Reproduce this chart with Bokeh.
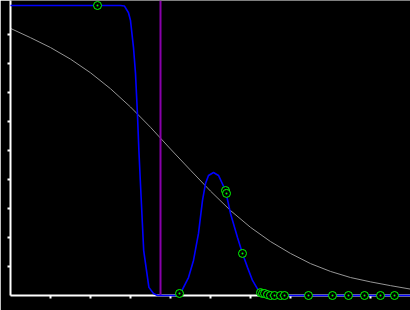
from bokeh.plotting import figure
from bokeh.models import Range1d, Span, FixedTicker
from bokeh.embed import file_html
from bokeh.resources import INLINE

# Blue curve
blue_x = [0.0, 2.75, 2.85, 2.95, 3.0, 3.075, 3.125, 3.175, 3.21, 3.25, 3.33, 3.46,
          3.575, 3.675, 4.125, 4.25, 4.325, 4.45, 4.575, 4.7, 4.8, 4.875, 4.95,
          5.075, 5.2, 5.375, 5.5, 5.675, 5.8, 5.925, 6.05, 6.2, 6.325, 6.5, 10.0]
blue_y = [1.0, 1.0, 0.998, 0.975, 0.948, 0.855, 0.766, 0.621, 0.5, 0.383, 0.155, 0.028,
          0.007, 0.0, 0.0, 0.007, 0.028, 0.062, 0.121, 0.214, 0.328, 0.386, 0.414,
          0.424, 0.414, 0.362, 0.283, 0.2, 0.145, 0.097, 0.052, 0.017, 0.003, 0.0, 0.0]

# Grey curve
grey_x = [0.0, 0.5, 1.0, 1.5, 2.0, 2.5, 3.0, 3.5, 4.0, 4.5, 5.0, 5.5, 6.0, 6.5,
          7.0, 7.5, 8.0, 8.5, 9.0, 9.5, 10.0]
grey_y = [0.921, 0.889, 0.855, 0.815, 0.768, 0.713, 0.650, 0.580, 0.505, 0.432, 0.360,
          0.293, 0.235, 0.186, 0.145, 0.110, 0.083, 0.062, 0.047, 0.034, 0.022]

# Green sample points
pts_x = [2.175, 4.225, 5.375, 5.4, 5.8, 6.25, 6.3, 6.35, 6.425, 6.5, 6.6, 6.75, 6.85,
         7.45, 8.05, 8.45, 8.85, 9.25, 9.6]
pts_y = [1.0, 0.007, 0.362, 0.352, 0.145, 0.01, 0.007, 0.007, 0.003, 0.0, 0.0, 0.0, 0.0,
         0.0, 0.0, 0.0, 0.0, 0.0, 0.0]

# Vertical marker line
vline_x = 3.75

x_ticks = [1, 2, 3, 4, 5, 6, 7, 8, 9]
y_ticks = [0.1, 0.2, 0.3, 0.4, 0.5, 0.6, 0.7, 0.8, 0.9]

p = figure(width=410, height=310, output_backend="svg", toolbar_location=None,
           x_range=Range1d(0, 10), y_range=Range1d(0, 1.0172),
           min_border_left=10, min_border_right=0, min_border_top=0, min_border_bottom=15)
p.background_fill_color = "black"
p.border_fill_color = "black"
p.outline_line_color = None
p.xgrid.visible = False
p.ygrid.visible = False

for ax, ticks in ((p.xaxis[0], x_ticks), (p.yaxis[0], y_ticks)):
    ax.ticker = FixedTicker(ticks=ticks)
    ax.major_label_overrides = {t: "" for t in ticks}
    ax.axis_line_color = "white"
    ax.axis_line_width = 2
    ax.major_tick_line_color = "white"
    ax.major_tick_line_width = 2
    ax.major_tick_out = 3
    ax.major_tick_in = 0
    ax.minor_tick_line_color = None
    ax.major_label_text_font_size = "1px"
    ax.major_label_standoff = 0
    ax.axis_label = None

p.line(grey_x, grey_y, line_color="#959595", line_width=1)
p.add_layout(Span(location=vline_x, dimension="height", line_color="#8800aa", line_width=2))
bl = p.line(blue_x, blue_y, line_color="#0000ff", line_width=1.6)
bl.level = "overlay"
sc = p.scatter(pts_x, pts_y, marker="circle_dot", size=8, fill_color="black",
               line_color="#00ff00", line_width=1)
sc.level = "overlay"

open("out.html", "w").write(file_html(p, INLINE))
